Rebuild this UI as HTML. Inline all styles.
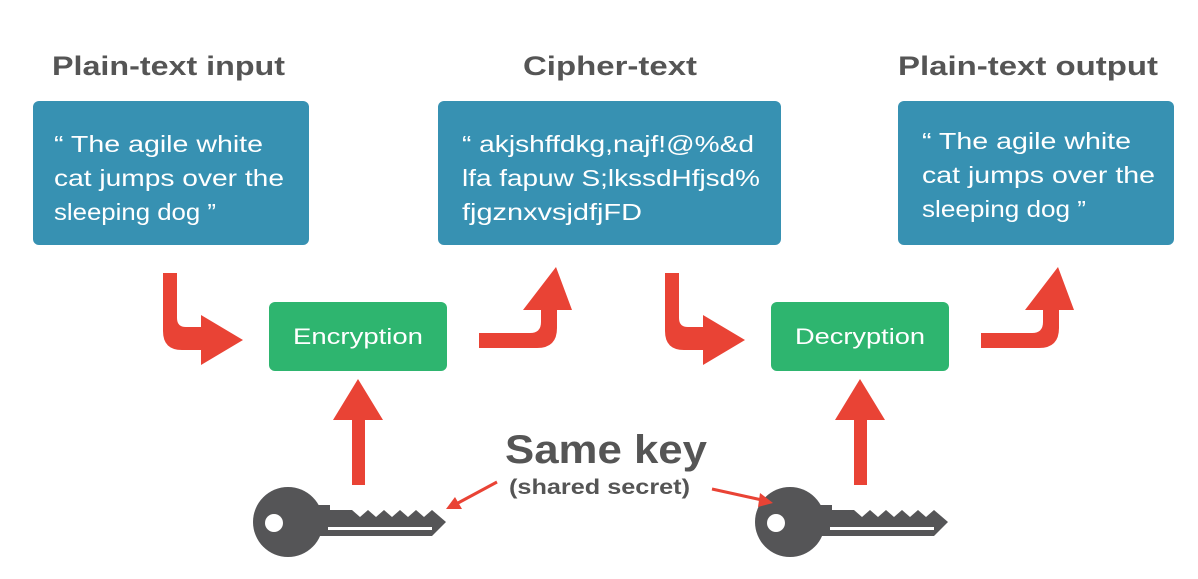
<!DOCTYPE html>
<html><head><meta charset="utf-8"><style>
html,body{margin:0;padding:0;background:#fff;}
svg{display:block;}
text{font-family:"Liberation Sans",sans-serif;}
</style></head><body>
<svg width="1198" height="579" viewBox="0 0 1198 579" xmlns="http://www.w3.org/2000/svg">
<defs>
<g id="flow" fill="#e94335">
  <path d="M163,273 L177,273 L177,318 Q177,327 186,327 L201,327 L201,315 L243,340 L201,365 L201,350 L182,350 Q163,350 163,331 Z"/>
  <path d="M479,333 L530,333 Q541,333 541,322 L541,310 L523,310 L556,267 L572,310 L557,310 L557,328 Q557,348 537,348 L479,348 Z"/>
  <path d="M352,485 L365,485 L365,420 L383,420 L358,379 L333,420 L352,420 Z"/>
</g>
<g id="key">
  <g fill="#555557">
    <circle cx="288" cy="522" r="35"/>
    <path d="M312,505 L330,505 L330,510 L352,510 L360,517 L368,510 L376,517 L384,510 L392,517 L400,510 L408,517 L416,510 L424,517 L432,510 L446,522 L432,536 L312,536 Z"/>
  </g>
  <circle cx="274" cy="523" r="9" fill="#fff"/>
  <rect x="328" y="527" width="104" height="3" fill="#fff"/>
</g>
</defs>

<g font-size="27" font-weight="bold" fill="#555">
<text x="52" y="75" textLength="233" lengthAdjust="spacingAndGlyphs">Plain-text input</text>
<text x="523" y="75" textLength="174" lengthAdjust="spacingAndGlyphs">Cipher-text</text>
<text x="898" y="75" textLength="260" lengthAdjust="spacingAndGlyphs">Plain-text output</text>
</g>

<rect x="33" y="101" width="276" height="144" rx="6" fill="#3791b2"/>
<rect x="438" y="101" width="343" height="144" rx="6" fill="#3791b2"/>
<rect x="898" y="101" width="276" height="144" rx="6" fill="#3791b2"/>

<g font-size="23" fill="#fff">
<text x="54" y="152" textLength="209" lengthAdjust="spacingAndGlyphs">“ The agile white</text>
<text x="54" y="186" textLength="230" lengthAdjust="spacingAndGlyphs">cat jumps over the</text>
<text x="54" y="220" textLength="162" lengthAdjust="spacingAndGlyphs">sleeping dog ”</text>
<text x="462" y="152" textLength="292" lengthAdjust="spacingAndGlyphs">“ akjshffdkg,najf!@%&amp;d</text>
<text x="462" y="186" textLength="298" lengthAdjust="spacingAndGlyphs">lfa fapuw S;lkssdHfjsd%</text>
<text x="462" y="220" textLength="180" lengthAdjust="spacingAndGlyphs">fjgznxvsjdfjFD</text>
<text x="922" y="149" textLength="209" lengthAdjust="spacingAndGlyphs">“ The agile white</text>
<text x="922" y="183" textLength="233" lengthAdjust="spacingAndGlyphs">cat jumps over the</text>
<text x="922" y="217" textLength="164" lengthAdjust="spacingAndGlyphs">sleeping dog ”</text>
</g>

<rect x="269" y="302" width="178" height="69" rx="6" fill="#2eb56f"/>
<rect x="771" y="302" width="178" height="69" rx="6" fill="#2eb56f"/>
<text x="293" y="344" font-size="22" fill="#fff" textLength="130" lengthAdjust="spacingAndGlyphs">Encryption</text>
<text x="795" y="344" font-size="22" fill="#fff" textLength="130" lengthAdjust="spacingAndGlyphs">Decryption</text>

<use href="#flow"/>
<use href="#flow" transform="translate(502,0)"/>
<use href="#key"/>
<use href="#key" transform="translate(502,0)"/>

<text x="505" y="463" font-size="40" font-weight="bold" fill="#555" textLength="202" lengthAdjust="spacingAndGlyphs">Same key</text>
<text x="509" y="494" font-size="21" font-weight="bold" fill="#555" textLength="181" lengthAdjust="spacingAndGlyphs">(shared secret)</text>

<g stroke="#e94335" stroke-width="3">
  <line x1="497" y1="482" x2="458" y2="503"/>
  <line x1="712" y1="489" x2="762" y2="500"/>
</g>
<path d="M446,509 L455,497 L462,509 Z" fill="#e94335"/>
<path d="M773,503 L760,493 L758,507 Z" fill="#e94335"/>
</svg>
</body></html>
